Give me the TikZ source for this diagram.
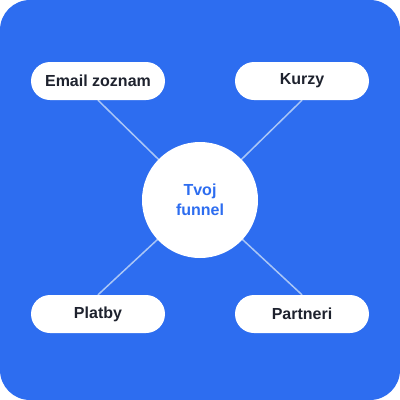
\documentclass[tikz,border=0pt]{standalone}
\usepackage{fontspec}
\setmainfont{Liberation Sans}
\usetikzlibrary{backgrounds}
\definecolor{bgblue}{RGB}{45,109,240}
\definecolor{linec}{RGB}{170,198,246}
\definecolor{txt}{RGB}{30,34,46}
\pgfdeclarelayer{back}
\pgfsetlayers{back,background,main}
\begin{document}
\begin{tikzpicture}[x=1pt,y=-1pt,
  pill/.style={fill=white,rounded corners=19pt,minimum width=134pt,minimum height=38pt,inner sep=0pt,
    font=\fontsize{16}{19}\selectfont\bfseries,text=txt},
  hub/.style={circle,fill=white,minimum size=116pt,inner sep=0pt,align=center,
    font=\fontsize{16}{20}\selectfont\bfseries,text=bgblue},
  conn/.style={draw=linec,line width=1.5pt}]
\useasboundingbox (0,0) rectangle (400,400);
\begin{pgfonlayer}{back}
\fill[bgblue,rounded corners=30pt] (0,0) rectangle (400,400);
\end{pgfonlayer}
\node[hub] (hub) at (200,200) {Tvoj\\funnel};
\node[pill] (email) at (98,81) {Email zoznam};
\node[pill] (kurzy) at (302,81) {Kurzy};
\node[pill] (platby) at (98,314) {Platby};
\node[pill] (partneri) at (302,314) {Partneri};
\begin{pgfonlayer}{background}
\draw[conn] (email.south) -- (hub.center);
\draw[conn] (kurzy.south) -- (hub.center);
\draw[conn] (platby.north) -- (hub.center);
\draw[conn] (partneri.north) -- (hub.center);
\end{pgfonlayer}
\end{tikzpicture}
\end{document}
